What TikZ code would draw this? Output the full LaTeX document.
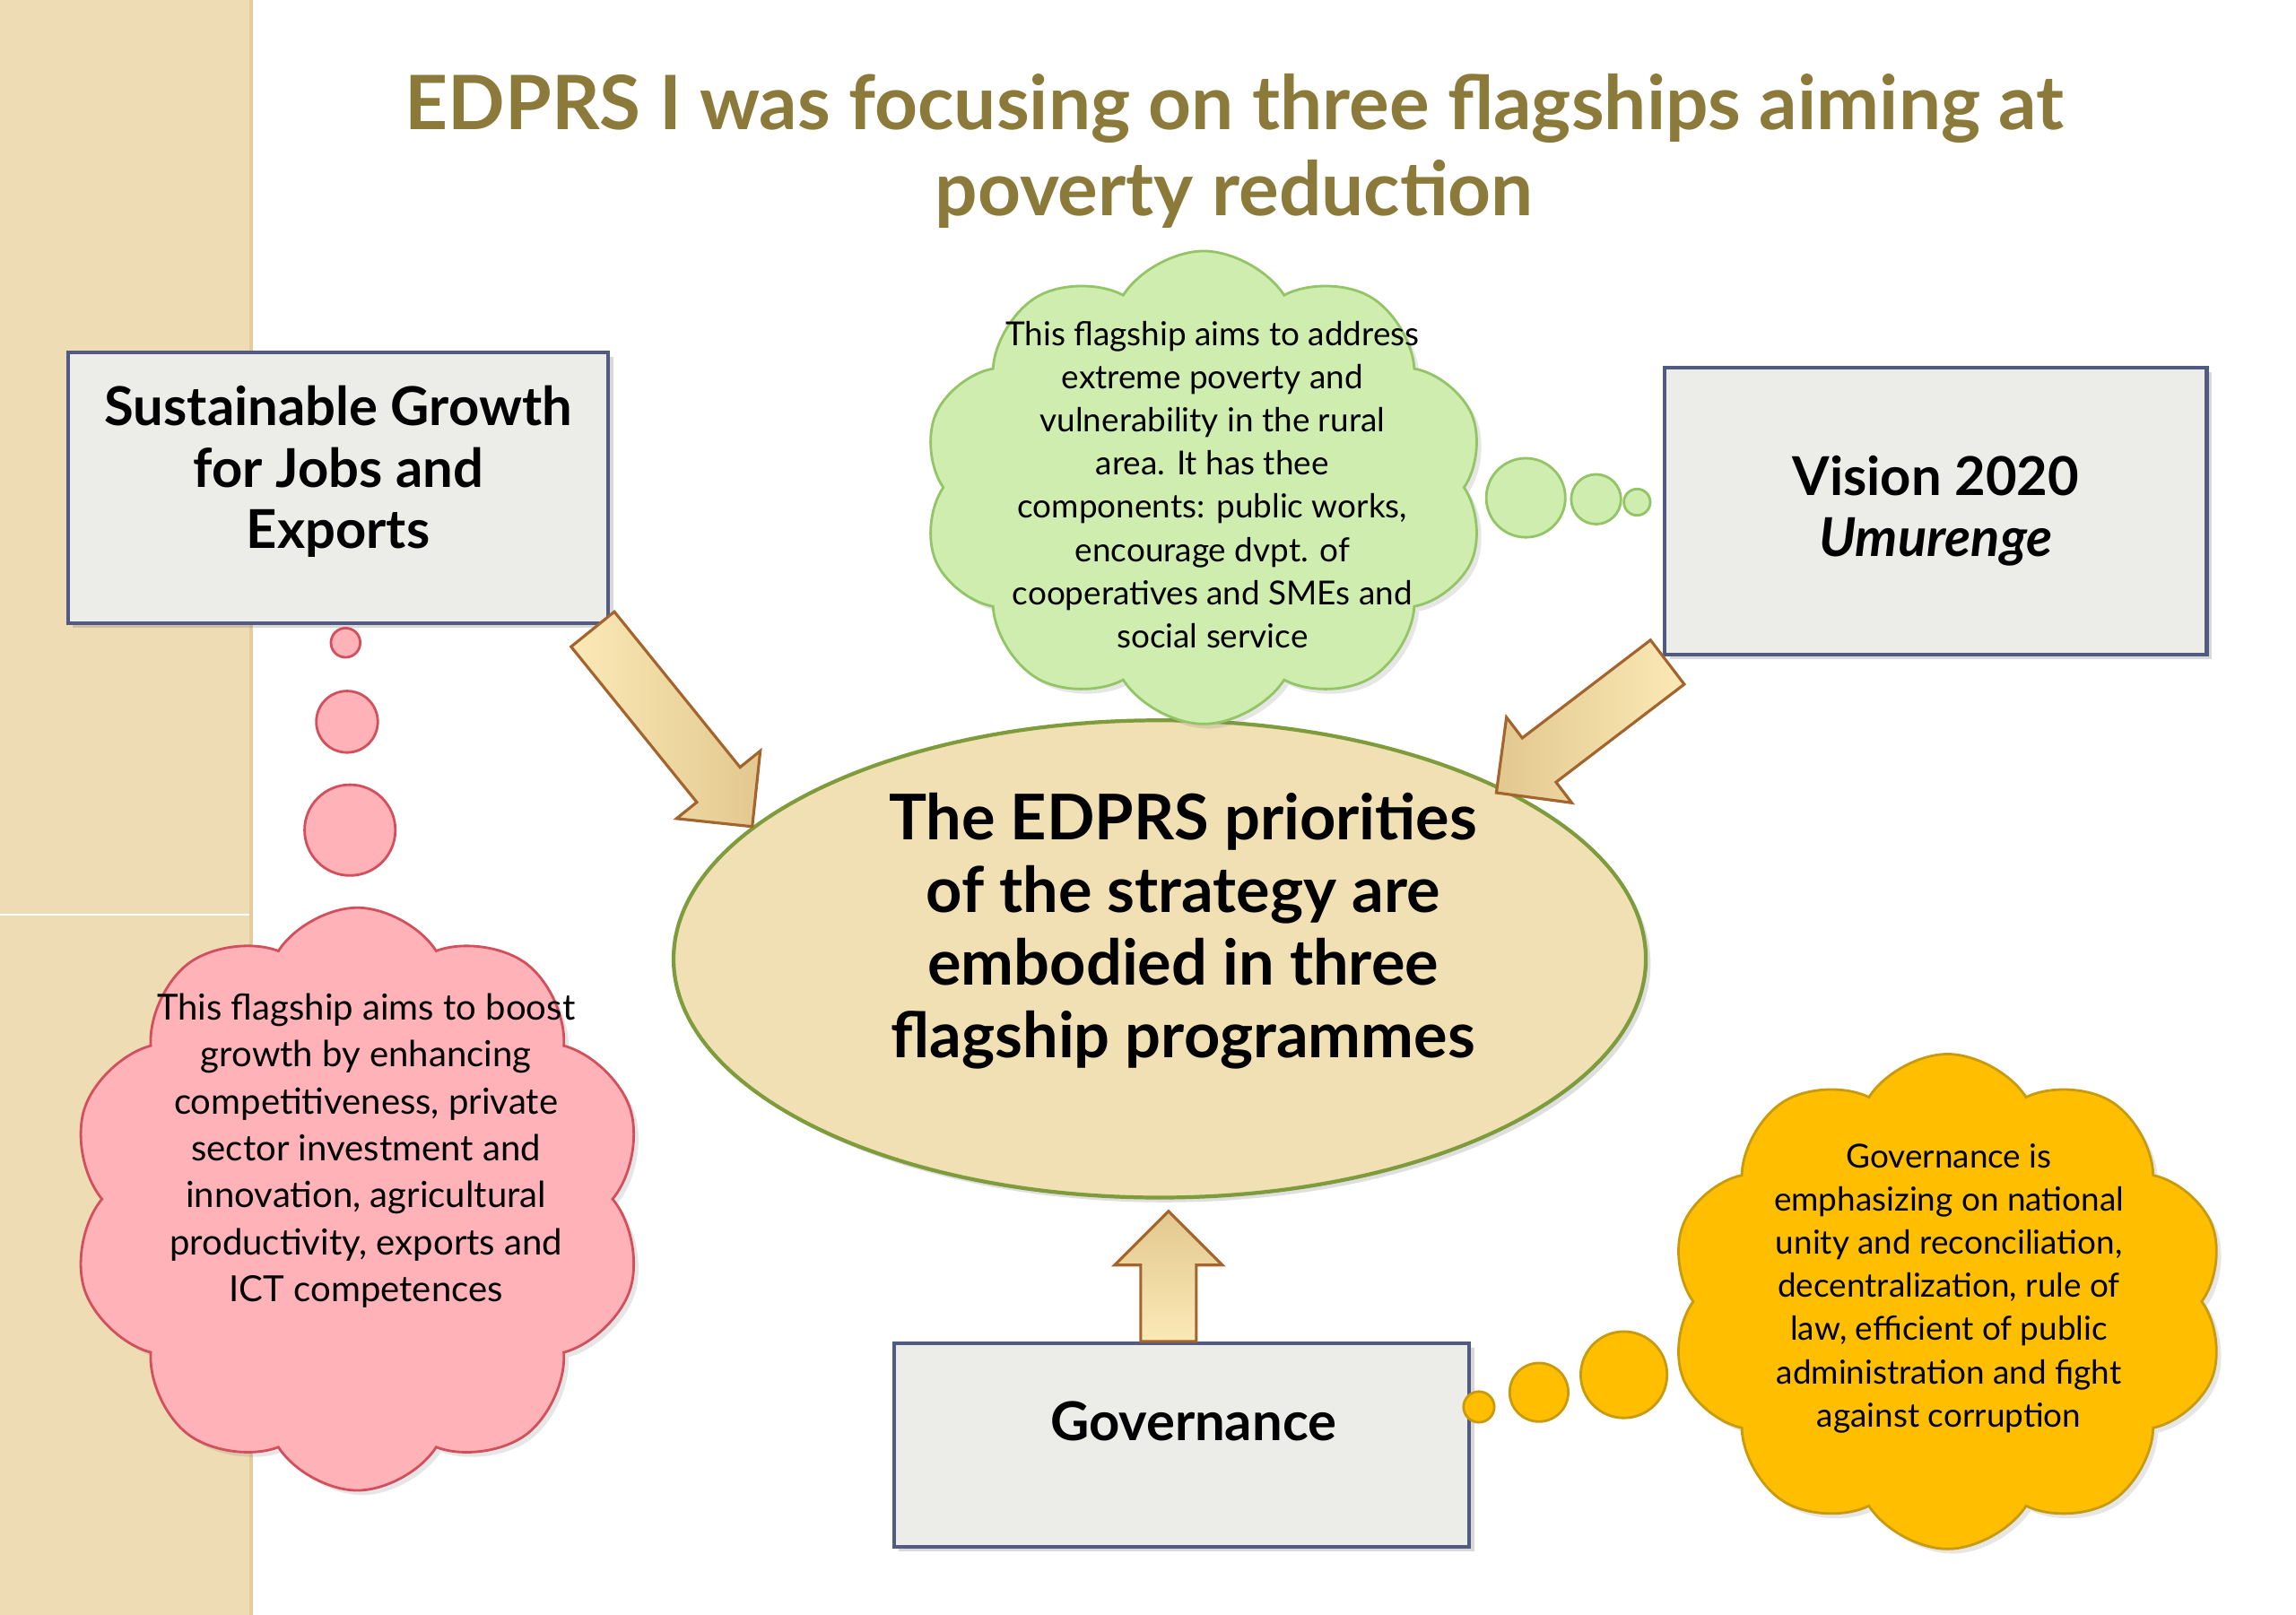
\documentclass[tikz,border=0pt]{standalone}
\usepackage{fontspec}
\setmainfont{Lato}
\usetikzlibrary{shapes.symbols,shapes.geometric,shadows,calc}

\definecolor{titlegold}{HTML}{8C7A3A}
\definecolor{stripetan}{HTML}{EEDDB4}
\definecolor{boxedge}{HTML}{505A82}
\definecolor{boxfill}{HTML}{ECECE9}
\definecolor{ovalfill}{HTML}{F0E0B4}
\definecolor{ovaledge}{HTML}{7E9C3C}
\definecolor{greenfill}{HTML}{CFEDAE}
\definecolor{greenedge}{HTML}{93C466}
\definecolor{redfill}{HTML}{FFB2B8}
\definecolor{rededge}{HTML}{D2505C}
\definecolor{goldfill}{HTML}{FFBF00}
\definecolor{goldedge}{HTML}{C89A10}
\definecolor{arrowlight}{HTML}{FBE9B6}
\definecolor{arrowdark}{HTML}{E2C88F}
\definecolor{arrowedge}{HTML}{A3642E}

\newlength\px
\setlength\px{0.01633cm}

% block arrow: [extra options], tail, tip, name
\newcommand\flagarrow[4][]{%
  \coordinate (#4neck) at ($(#3)!0.6cm!(#2)$);
  \filldraw[flagarrow,#1] ($(#2)!0.31cm!90:(#3)$) -- ($(#4neck)!0.31cm!90:(#3)$)
    -- ($(#4neck)!0.6cm!90:(#3)$) -- (#3) -- ($(#4neck)!0.6cm!-90:(#3)$)
    -- ($(#4neck)!0.31cm!-90:(#3)$) -- ($(#2)!0.31cm!-90:(#3)$) -- cycle;}

\begin{document}
\begin{tikzpicture}[x=0.01633cm,y=-0.01633cm,
    flagbox/.style={draw=boxedge, line width=1.2pt, fill=boxfill, align=center,
      font=\bfseries\fontsize{17}{19.5}\selectfont,
      drop shadow={opacity=0.3, shadow xshift=1.5pt, shadow yshift=-1.5pt}},
    puff/.style={cloud, cloud puffs=10, cloud puff arc=115, cloud ignores aspect,
      line width=0.8pt, drop shadow={opacity=0.2, shadow xshift=1.5pt, shadow yshift=-1.5pt}},
    bubble/.style={circle, inner sep=0pt, line width=0.8pt},
    cloudtext/.style={align=center, font=\fontsize{10.5}{13.7}\selectfont},
    flagarrow/.style={draw=arrowedge, line width=0.9pt, left color=arrowlight, right color=arrowdark}]
    \useasboundingbox (0,0) rectangle (1568,1103);

    \fill[stripetan] (0,0) rectangle (173,1103);
    \fill[stripetan!80!brown] (170,0) rectangle (173,1103);
    \draw[white, line width=0.6pt] (0,625) -- (170,625);

    \node[text=titlegold, align=center, font=\bfseries\fontsize{23.8}{27.4}\selectfont] (title) at (843,103)
      {EDPRS I was focusing on three flagships aiming at\\poverty reduction};

    \node[flagbox, minimum width=369\px, minimum height=185\px, text depth=13pt] (growth) at (231,333)
      {Sustainable Growth\\for Jobs and\\Exports};
    \node[flagbox, minimum width=370\px, minimum height=196\px] (vision) at (1322,349)
      {Vision 2020\\\itshape Umurenge};
    \node[flagbox, minimum width=393\px, minimum height=139\px] (governance) at (807,987) {};
    \node[font=\bfseries\fontsize{17}{19.5}\selectfont] (govlabel) at (815,971) {Governance};

    \node[ellipse, draw=ovaledge, line width=1.2pt, fill=ovalfill, minimum width=664\px, minimum height=326\px,
      drop shadow={opacity=0.25, shadow xshift=1.5pt, shadow yshift=-1.5pt}] (priorities) at (792,655) {};
    \node[align=center, font=\bfseries\fontsize{20}{23}\selectfont] (prioritiestext) at (808,636)
      {The EDPRS priorities\\of the strategy are\\embodied in three\\flagship programmes};

    \node[puff, draw=greenedge, fill=greenfill, minimum width=385\px, minimum height=323\px] (ruralcloud) at (822,333) {};
    \node[cloudtext] (ruraltext) at (828,331)
      {This flagship aims to address\\extreme poverty and\\vulnerability in the rural\\area. It has thee\\components: public works,\\encourage dvpt. of\\cooperatives and SMEs and\\social service};
    \node[bubble, draw=greenedge, fill=greenfill, minimum size=54\px] (rural1) at (1042,340) {};
    \node[bubble, draw=greenedge, fill=greenfill, minimum size=34\px] (rural2) at (1090,341) {};
    \node[bubble, draw=greenedge, fill=greenfill, minimum size=18\px] (rural3) at (1118,343) {};

    \node[puff, draw=rededge, fill=redfill, minimum width=392\px, minimum height=398\px] (growthcloud) at (244,819) {};
    \node[cloudtext, font=\fontsize{11.4}{14.9}\selectfont] (growthtext) at (250,786)
      {This flagship aims to boost\\growth by enhancing\\competitiveness, private\\sector investment and\\innovation, agricultural\\productivity, exports and\\ICT competences};
    \node[bubble, draw=rededge, fill=redfill, minimum size=20\px] (growth1) at (236,439) {};
    \node[bubble, draw=rededge, fill=redfill, minimum size=42\px] (growth2) at (237,493) {};
    \node[bubble, draw=rededge, fill=redfill, minimum size=62\px] (growth3) at (239,567) {};

    \node[puff, draw=goldedge, fill=goldfill, minimum width=380\px, minimum height=338\px] (govcloud) at (1330,889) {};
    \node[cloudtext] (govtext) at (1331,880)
      {Governance is\\emphasizing on national\\unity and reconciliation,\\decentralization, rule of\\law, efficient of public\\administration and fight\\against corruption};
    \node[bubble, draw=goldedge, fill=goldfill, minimum size=21\px] (gov1) at (1010,961) {};
    \node[bubble, draw=goldedge, fill=goldfill, minimum size=40\px] (gov2) at (1051,951) {};
    \node[bubble, draw=goldedge, fill=goldfill, minimum size=59\px] (gov3) at (1109,939) {};

    \coordinate (growthtail) at ([shift={(-12,3)}]growth.south east);
    \coordinate (growthtip) at (priorities.162);
    \coordinate (visiontail) at ([shift={(3,4)}]vision.south west);
    \coordinate (visiontip) at ([shift={(-7,2)}]priorities.26);
    \coordinate (govtail) at ([xshift=-9\px]governance.north);
    \coordinate (govtip) at ([shift={(6,8)}]priorities.south);

    \flagarrow{growthtail}{growthtip}{growtharrow}
    \flagarrow[left color=arrowdark, right color=arrowlight]{visiontail}{visiontip}{visionarrow}
    \flagarrow[top color=arrowdark, bottom color=arrowlight]{govtail}{govtip}{govarrow}
\end{tikzpicture}
\end{document}
